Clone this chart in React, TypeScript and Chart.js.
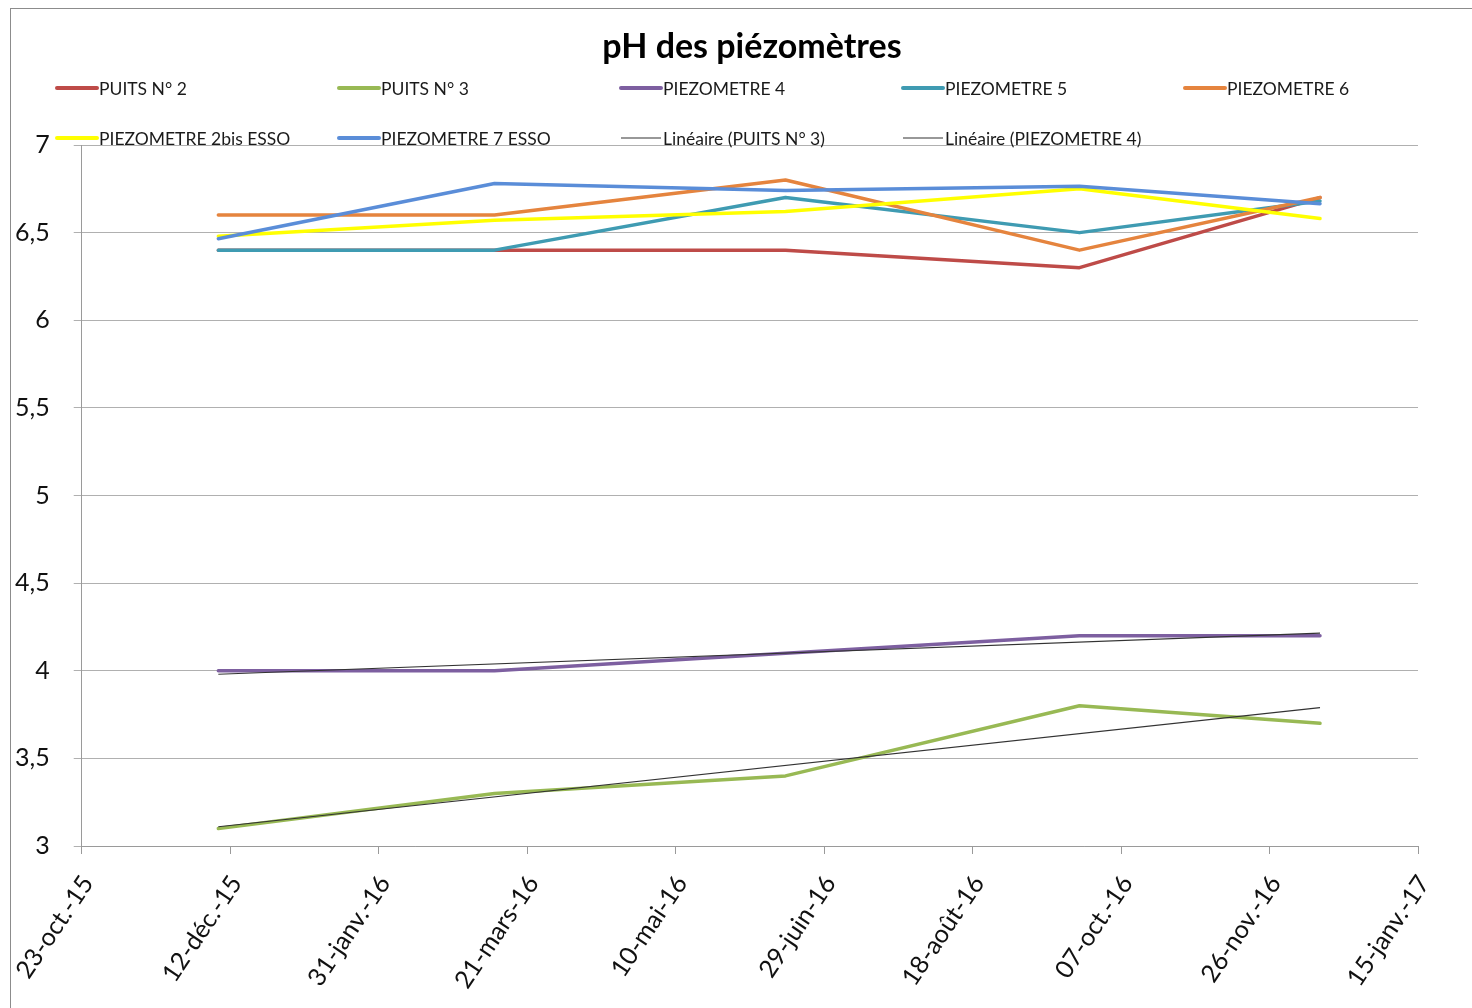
import React, { useEffect, useRef } from "react";
import { Chart, registerables } from "chart.js";

Chart.register(...registerables);

const TITLE = "pH des piézomètres";
const AXIS_START = "2015-10-23";
const sampleDates = ["2015-12-08", "2016-03-10", "2016-06-16", "2016-09-23", "2016-12-13"];
const xTickLabels = [
  "23-oct.-15", "12-déc.-15", "31-janv.-16", "21-mars-16", "10-mai-16",
  "29-juin-16", "18-août-16", "07-oct.-16", "26-nov.-16", "15-janv.-17",
];
const yMin = 3;
const yMax = 7;
const yStep = 0.5;
const xStepDays = 50;

const seriesNames = [
  "PUITS N° 2", "PUITS N° 3", "PIEZOMETRE 4", "PIEZOMETRE 5", "PIEZOMETRE 6",
  "PIEZOMETRE 2bis ESSO", "PIEZOMETRE 7 ESSO",
];
const puits2 = [6.4, 6.4, 6.4, 6.3, 6.7];
const puits3 = [3.1, 3.3, 3.4, 3.8, 3.7];
const piezo4 = [4.0, 4.0, 4.1, 4.2, 4.2];
const piezo5 = [6.4, 6.4, 6.7, 6.5, 6.68];
const piezo6 = [6.6, 6.6, 6.8, 6.4, 6.7];
const piezo2bis = [6.48, 6.57, 6.62, 6.75, 6.58];
const piezo7 = [6.465, 6.78, 6.74, 6.765, 6.665];
const seriesColors = ["#BE4B48", "#98B954", "#7D5FA0", "#3F9BB2", "#E5843E", "#FFFF00", "#5A8DD8"];

const trendNames = ["Linéaire (PUITS N° 3)", "Linéaire (PIEZOMETRE 4)"];
// trend line values at the first and last sample dates
const trendPuits3 = [3.11, 3.79];
const trendPiezo4 = [3.98, 4.215];
const trendColor = "#333333";

const FONT = "Lato, 'Open Sans', sans-serif";

function dayOffset(d: string) {
  return Math.round((Date.parse(d + "T00:00:00Z") - Date.parse(AXIS_START + "T00:00:00Z")) / 86400000);
}

export default function App() {
  const ref = useRef<HTMLCanvasElement>(null);

  useEffect(() => {
    let chart: Chart | null = null;
    let cancelled = false;
    const build = () => {
      if (cancelled || !ref.current) return;
      const days = sampleDates.map(dayOffset);
      const allSeries = [puits2, puits3, piezo4, piezo5, piezo6, piezo2bis, piezo7];
      const datasets: any[] = allSeries.map((vals, i) => ({
        label: seriesNames[i],
        data: vals.map((v, j) => ({ x: days[j], y: v })),
        borderColor: seriesColors[i],
        backgroundColor: seriesColors[i],
        borderWidth: 3.5,
        pointRadius: 0,
        tension: 0,
        borderCapStyle: "round",
        borderJoinStyle: "round",
        order: 20 - i,
      }));
      const trends = [trendPuits3, trendPiezo4];
      trends.forEach((t, k) => {
        datasets.push({
          label: trendNames[k],
          data: [
            { x: days[0], y: t[0] },
            { x: days[days.length - 1], y: t[1] },
          ],
          borderColor: trendColor,
          backgroundColor: trendColor,
          borderWidth: 1.2,
          pointRadius: 0,
          tension: 0,
          order: 5 - k,
        });
      });

      const legendItems = [
        ...seriesNames.map((n, i) => ({ text: n, color: seriesColors[i], width: 4 })),
        ...trendNames.map((n) => ({ text: n, color: trendColor, width: 1.2 })),
      ];

      const decorPlugin = {
        id: "decor",
        beforeDraw(c: any) {
          const ctx = c.ctx;
          ctx.save();
          ctx.fillStyle = "#ffffff";
          ctx.fillRect(0, 0, c.width, c.height);
          ctx.strokeStyle = "#8c8c8c";
          ctx.lineWidth = 1;
          ctx.strokeRect(10.5, 8.5, c.width + 50, c.height + 50);
          ctx.restore();
        },
        afterDraw(c: any) {
          const ctx = c.ctx;
          ctx.save();
          ctx.fillStyle = "#000000";
          ctx.textAlign = "center";
          ctx.textBaseline = "middle";
          ctx.font = `bold 34px ${FONT}`;
          ctx.fillText(TITLE, 752, 47);

          ctx.font = `17.5px ${FONT}`;
          ctx.textAlign = "left";
          const colX = [55, 337, 619, 901, 1183];
          const rowY = [88, 138];
          legendItems.forEach((it, i) => {
            const x = colX[i % 5];
            const y = rowY[Math.floor(i / 5)];
            ctx.strokeStyle = it.color;
            ctx.lineWidth = it.width;
            ctx.lineCap = it.width > 2 ? "round" : "butt";
            ctx.beginPath();
            ctx.moveTo(x + 2, y);
            ctx.lineTo(x + 42, y);
            ctx.stroke();
            ctx.fillStyle = "#1a1a1a";
            ctx.fillText(it.text, x + 44, y + 1);
          });
          ctx.restore();
        },
      };

      chart = new Chart(ref.current, {
        type: "line",
        data: { datasets },
        plugins: [decorPlugin],
        options: {
          responsive: false,
          animation: false,
          devicePixelRatio: 1,
          layout: { padding: { top: 145, right: 54, left: 0, bottom: 0 } },
          plugins: { legend: { display: false }, title: { display: false }, tooltip: { enabled: false } },
          scales: {
            x: {
              type: "linear",
              min: 0,
              max: xStepDays * (xTickLabels.length - 1),
              afterFit: (s: any) => { s.height = 162; },
              ticks: {
                stepSize: xStepDays,
                autoSkip: false,
                maxRotation: 56,
                minRotation: 56,
                padding: 16,
                labelOffset: 6,
                color: "#111111",
                font: { family: FONT, size: 25 },
                callback: (v: any) => xTickLabels[Math.round(Number(v) / xStepDays)] ?? "",
              },
              grid: { drawOnChartArea: false, drawTicks: true, tickLength: 8, color: "#9a9a9a" },
              border: { display: true, color: "#9a9a9a", width: 1 },
            },
            y: {
              type: "linear",
              min: yMin,
              max: yMax,
              afterFit: (s: any) => { s.width = 81; },
              ticks: {
                stepSize: yStep,
                padding: 24,
                color: "#111111",
                font: { family: FONT, size: 25 },
                callback: (v: any) => String(Number(v)).replace(".", ","),
              },
              grid: { color: "#b0b0b0", tickLength: 8, drawTicks: true },
              border: { display: true, color: "#9a9a9a", width: 1 },
            },
          },
        },
      } as any);
    };

    const fontsReady = (document as any).fonts
      ? Promise.all([
          (document as any).fonts.load(`18px Lato`),
          (document as any).fonts.load(`bold 34px Lato`),
          (document as any).fonts.load(`25px Lato`),
        ]).catch(() => null)
      : Promise.resolve(null);
    fontsReady.then(build);

    return () => {
      cancelled = true;
      if (chart) chart.destroy();
    };
  }, []);

  return (
    <div style={{ position: "fixed", left: 0, top: 0, width: 1472, height: 1008, background: "#fff", overflow: "hidden" }}>
      <canvas ref={ref} width={1472} height={1008} style={{ display: "block", width: 1472, height: 1008 }} />
    </div>
  );
}
